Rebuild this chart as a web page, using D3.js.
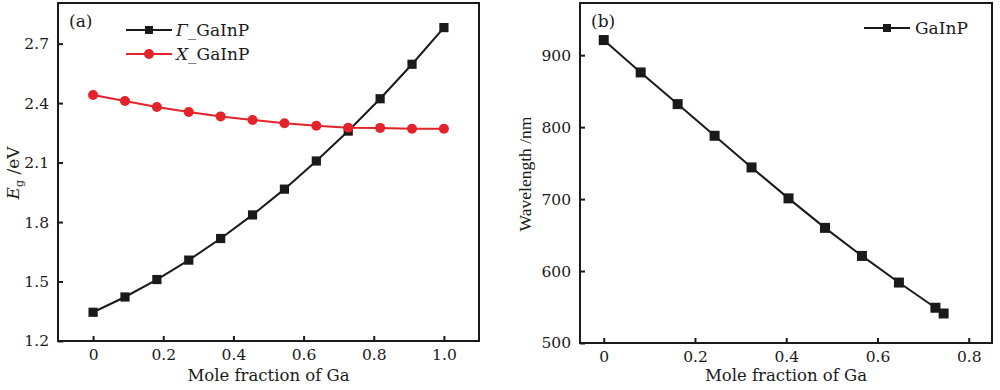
<!DOCTYPE html>
<html>
<head>
<meta charset="utf-8">
<script src="https://cdn.jsdelivr.net/npm/d3@7"></script>
<style>
  body { margin: 0; background: #fff; }
  svg text { font-family: "DejaVu Serif", serif; fill: #1a1a1a; }
</style>
</head>
<body>
<div id="chart"></div>
<script>
// Panel (a): band gap vs Ga mole fraction
var fracA = [0, 1/11, 2/11, 3/11, 4/11, 5/11, 6/11, 7/11, 8/11, 9/11, 10/11, 1];
var gammaEg = [1.345, 1.422, 1.51, 1.608, 1.717, 1.836, 1.966, 2.108, 2.259, 2.422, 2.596, 2.781];
var xEg = [2.441, 2.411, 2.380, 2.355, 2.333, 2.315, 2.298, 2.286, 2.276, 2.275, 2.271, 2.271];
var ticksAx = [0, 0.2, 0.4, 0.6, 0.8, 1.0];
var ticksAy = [1.2, 1.5, 1.8, 2.1, 2.4, 2.7];

// Panel (b): wavelength vs Ga mole fraction
var fracB = [0, 0.081, 0.162, 0.243, 0.324, 0.405, 0.485, 0.566, 0.647, 0.727, 0.745];
var wavelength = [921, 876, 832, 788, 744, 701, 660, 621, 584, 549, 541];
var ticksBx = [0, 0.2, 0.4, 0.6, 0.8];
var ticksBy = [500, 600, 700, 800, 900];

var ink = "#1a1a1a", red = "#e3222a";

var svg = d3.select("#chart").append("svg")
    .attr("width", 1000)
    .attr("height", 390);

function fmtX(d) { return d === 0 ? "0" : d3.format(".1f")(d); }

// draws frame, axes and labels for one panel, returns the scales
function panel(opt) {
    var g = svg.append("g");
    var x = d3.scaleLinear().domain(opt.xDomain).range([opt.left, opt.right]);
    var y = d3.scaleLinear().domain(opt.yDomain).range([opt.bottom, opt.top]);

    var xAxis = g.append("g")
        .attr("transform", "translate(0," + opt.bottom + ")")
        .call(d3.axisBottom(x).tickValues(opt.xTicks).tickFormat(fmtX).tickSize(-5).tickPadding(8));
    var yAxis = g.append("g")
        .attr("transform", "translate(" + opt.left + ",0)")
        .call(d3.axisLeft(y).tickValues(opt.yTicks).tickFormat(opt.yFormat).tickSize(-5).tickPadding(9));
    [xAxis, yAxis].forEach(function (a) {
        a.select(".domain").remove();
        a.selectAll(".tick line").attr("stroke", ink).attr("stroke-width", 2);
        a.selectAll(".tick text").style("font-size", "15.5px").attr("fill", ink)
            .style("font-family", "DejaVu Serif, serif");
    });

    // frame
    g.append("rect")
        .attr("x", opt.left).attr("y", opt.top)
        .attr("width", opt.right - opt.left).attr("height", opt.bottom - opt.top)
        .attr("fill", "none").attr("stroke", ink).attr("stroke-width", 2);

    g.append("text")
        .attr("x", (opt.left + opt.right) / 2).attr("y", 381)
        .attr("text-anchor", "middle").style("font-size", "16.5px")
        .text("Mole fraction of Ga");

    g.append("text")
        .attr("x", opt.left + 11).attr("y", 27)
        .style("font-size", "17px")
        .text(opt.tag);

    return { g: g, x: x, y: y };
}

function drawLine(p, xs, ys, color) {
    var line = d3.line().x(function (d) { return p.x(d[0]); }).y(function (d) { return p.y(d[1]); });
    p.g.append("path")
        .datum(d3.zip(xs, ys))
        .attr("d", line)
        .attr("fill", "none")
        .attr("stroke", color)
        .attr("stroke-width", 2);
}

// ---------- panel (a)
var pa = panel({
    left: 58, right: 479, top: 3, bottom: 341,
    xDomain: [-0.1, 1.1], yDomain: [1.2, 2.905],
    xTicks: ticksAx, yTicks: ticksAy, yFormat: d3.format(".1f"), tag: "(a)"
});

drawLine(pa, fracA, gammaEg, ink);
drawLine(pa, fracA, xEg, red);

pa.g.selectAll(".sqA")
    .data(d3.zip(fracA, gammaEg))
    .enter().append("rect")
    .attr("x", function (d) { return pa.x(d[0]) - 4.6; })
    .attr("y", function (d) { return pa.y(d[1]) - 4.6; })
    .attr("width", 9.2).attr("height", 9.2)
    .attr("fill", ink);

pa.g.selectAll(".dotA")
    .data(d3.zip(fracA, xEg))
    .enter().append("circle")
    .attr("cx", function (d) { return pa.x(d[0]); })
    .attr("cy", function (d) { return pa.y(d[1]); })
    .attr("r", 5)
    .attr("fill", red);

// y label E_g /eV
var ylab = pa.g.append("text")
    .attr("transform", "translate(19,173) rotate(-90)")
    .attr("text-anchor", "middle")
    .style("font-size", "17px");
ylab.append("tspan").style("font-style", "italic").text("E");
ylab.append("tspan").attr("dy", 4).style("font-size", "11px").text("g");
ylab.append("tspan").attr("dy", -4).text(" /eV");

// legend (a)
var legA = [
    { name: "Γ", color: ink, shape: "square", y: 30 },
    { name: "X", color: red, shape: "circle", y: 54 }
];
legA.forEach(function (d) {
    pa.g.append("line")
        .attr("x1", 126).attr("x2", 172).attr("y1", d.y).attr("y2", d.y)
        .attr("stroke", d.color).attr("stroke-width", 2);
    if (d.shape === "square") {
        pa.g.append("rect").attr("x", 145).attr("y", d.y - 4)
            .attr("width", 8).attr("height", 8).attr("fill", d.color);
    } else {
        pa.g.append("circle").attr("cx", 149).attr("cy", d.y).attr("r", 5).attr("fill", d.color);
    }
    var t = pa.g.append("text").attr("x", 176).attr("y", d.y + 6).style("font-size", "17px");
    t.append("tspan").style("font-style", "italic").text(d.name);
    t.append("tspan").text("_GaInP");
});

// ---------- panel (b)
var pb = panel({
    left: 580, right: 992, top: 3, bottom: 343,
    xDomain: [-0.052, 0.851], yDomain: [500, 972.5],
    xTicks: ticksBx, yTicks: ticksBy, yFormat: d3.format("d"), tag: "(b)"
});

drawLine(pb, fracB, wavelength, ink);

pb.g.selectAll(".sqB")
    .data(d3.zip(fracB, wavelength))
    .enter().append("rect")
    .attr("x", function (d) { return pb.x(d[0]) - 5; })
    .attr("y", function (d) { return pb.y(d[1]) - 5; })
    .attr("width", 10).attr("height", 10)
    .attr("fill", ink);

pb.g.append("text")
    .attr("transform", "translate(531,174) rotate(-90)")
    .attr("text-anchor", "middle")
    .style("font-size", "17.5px")
    .style("font-family", "Liberation Serif, serif")
    .text("Wavelength /nm");

// legend (b)
pb.g.append("line")
    .attr("x1", 864).attr("x2", 910).attr("y1", 28).attr("y2", 28)
    .attr("stroke", ink).attr("stroke-width", 2);
pb.g.append("rect").attr("x", 883).attr("y", 24).attr("width", 8).attr("height", 8).attr("fill", ink);
pb.g.append("text").attr("x", 915).attr("y", 34).style("font-size", "17px").text("GaInP");
</script>
</body>
</html>
